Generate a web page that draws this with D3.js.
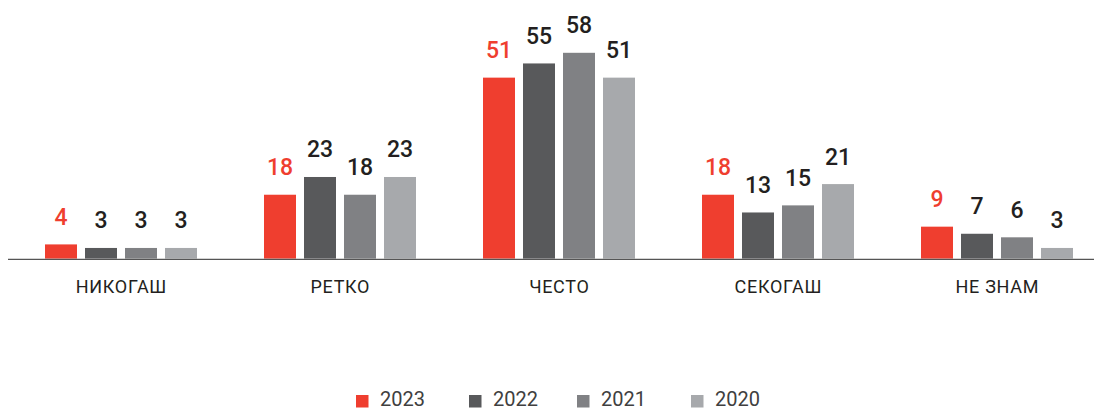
<!DOCTYPE html>
<html><head><meta charset="utf-8">
<script src="https://cdn.jsdelivr.net/npm/d3@7"></script>
<style>body{margin:0;background:#fff}svg{display:block}</style>
</head><body>
<svg id="c" width="1094" height="409"></svg>
<script>
const categories = ["НИКОГАШ","РЕТКО","ЧЕСТО","СЕКОГАШ","НЕ ЗНАМ"];
const years = ["2023","2022","2021","2020"];
const v2023 = [4,18,51,18,9];
const v2022 = [3,23,55,13,7];
const v2021 = [3,18,58,15,6];
const v2020 = [3,23,51,21,3];
const series = [v2023,v2022,v2021,v2020];
const colors = ["#EF3E2F","#58595B","#808184","#A7A9AC"];
const labelColors = ["#EF3E2F","#231F20","#231F20","#231F20"];

const svg = d3.select("#c");
const font = "Roboto, 'Noto Sans', sans-serif";
const x0 = d3.scaleBand().domain(categories).range([11.5,1106.5]);
const x1 = d3.scaleBand().domain(years).range([0,152]).paddingInner(0.2);
const y = d3.scaleLinear().domain([0,58]).range([258.6,52.8]);
const off = (x0.bandwidth()-152)/2;

categories.forEach((c,ci)=>{
  const g = svg.append("g").attr("transform",`translate(${x0(c)+off},0)`);
  years.forEach((yr,si)=>{
    const v = series[si][ci];
    g.append("rect").attr("x",x1(yr)).attr("y",y(v)).attr("width",x1.bandwidth())
      .attr("height",y(0)-y(v)).attr("fill",colors[si]);
    g.append("text").attr("x",x1(yr)+x1.bandwidth()/2).attr("y",y(v)-19.5)
      .attr("text-anchor","middle").attr("font-family",font).attr("font-size",23)
      .attr("font-weight",500).attr("fill",labelColors[si]).text(v);
  });
});

svg.append("line").attr("x1",8).attr("x2",1094).attr("y1",259.3).attr("y2",259.3)
  .attr("stroke","#555").attr("stroke-width",1.3);

const xAxis = d3.axisBottom(x0).tickSize(0).tickPadding(0);
const ax = svg.append("g").attr("transform","translate(0,259)").call(xAxis);
ax.attr("font-size",null).attr("font-family",null);
ax.select(".domain").remove();
ax.selectAll("text").attr("font-family",font).style("font-size","18px").attr("fill","#231F20")
  .style("letter-spacing","0.7px").attr("dy",null).attr("y",33.5)
  .attr("dx","0.35px");

const legX = [356,469,577,691];
years.forEach((yr,i)=>{
  svg.append("rect").attr("x",legX[i]).attr("y",395).attr("width",12.5).attr("height",12.5).attr("fill",colors[i]);
  svg.append("text").attr("x",legX[i]+24).attr("y",405.5).attr("font-family",font)
    .attr("font-size",20).attr("fill","#404040").text(yr);
});
</script>
</body></html>
